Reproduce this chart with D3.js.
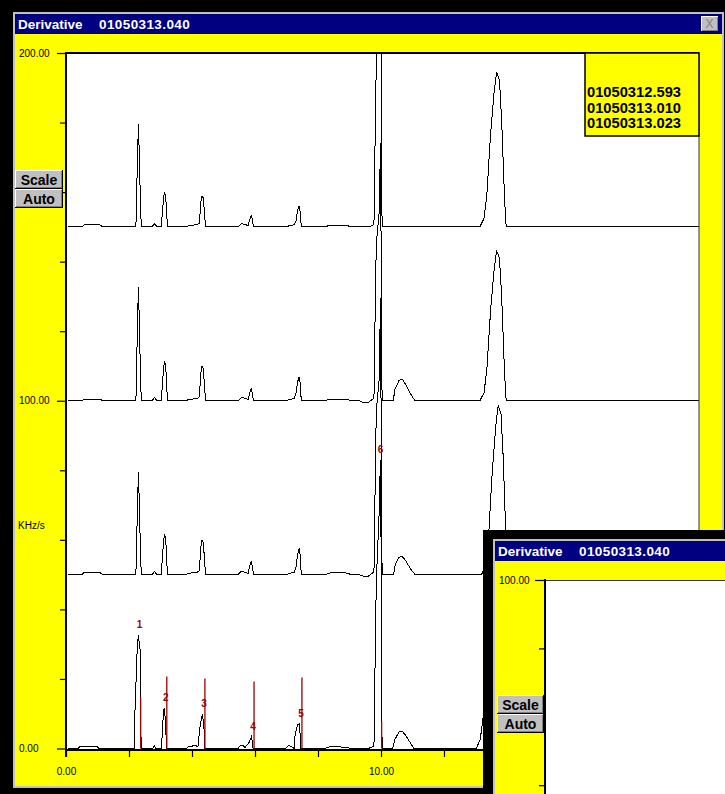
<!DOCTYPE html>
<html><head><meta charset="utf-8">
<script src="https://cdn.jsdelivr.net/npm/d3@7"></script>
<style>
html,body{margin:0;padding:0;background:#000;}
svg{display:block;font-family:"Liberation Sans",Arial,sans-serif;}
</style></head>
<body><svg id="svg" width="725" height="794"></svg>
<script>
var svg = d3.select("#svg");

// ---- data: [minutes, KHz/s above the trace's own baseline]
var title = "Derivative", fileName = "01050313.040";
var files = ["01050312.593", "01050313.010", "01050313.023"];
var offsets = [150, 100, 50, 0];

var trace1 = [
  [0.06,0],[0.51,0],[0.57,0.6],[1.08,0.6],[1.17,0],
  [2.19,0],[2.22,0.3],[2.24,8.6],[2.28,23.3],[2.30,29.6],[2.33,19.5],[2.36,8.0],[2.39,0],
  [2.73,0],[2.81,0.9],[2.89,0],
  [3.03,0],[3.06,4.6],[3.09,7.2],[3.12,9.8],[3.16,9.2],[3.18,6.6],[3.22,0],
  [3.81,0],[3.90,0.4],[4.16,0.6],[4.24,1.1],[4.27,6.6],[4.32,8.9],[4.36,8.3],[4.39,4.6],[4.43,0],
  [5.46,0],[5.56,0.9],[5.70,0.7],[5.78,0.3],[5.84,2.3],[5.88,3.2],[5.92,2.0],[5.95,0],
  [6.98,0],[7.11,0.4],[7.24,0.6],[7.30,1.7],[7.35,4.6],[7.40,6.0],[7.43,4.6],[7.47,0],
  [8.22,0],[8.38,0.5],[8.86,0.5],[9.08,0],
  [9.64,0],[9.75,0.6],[9.79,2.5],[9.80,17],[9.85,47],[9.96,68],[9.975,86],[9.99,68],[10.01,45],[10.02,8],[10.04,0],
  [13.14,0],[13.27,2.4],[13.36,9.2],[13.48,26.9],[13.59,38.7],[13.67,44.5],[13.76,42.3],[13.83,30.7],[13.91,11.1],[13.96,1.3],[13.99,0],
  [20.1,0]
];
var trace2 = [
  [0.06,0],[0.51,0],[0.57,0.5],[1.08,0.5],[1.17,0],
  [2.19,0],[2.22,0.3],[2.24,9.5],[2.28,25.8],[2.30,32.8],[2.33,21.6],[2.36,8.9],[2.39,0],
  [2.73,0],[2.81,0.9],[2.89,0],
  [3.03,0],[3.06,5.3],[3.09,8.2],[3.12,11.2],[3.16,10.5],[3.18,7.5],[3.22,0],
  [3.81,0],[3.90,0.4],[4.16,0.6],[4.24,1.2],[4.27,7.4],[4.32,10],[4.36,9.3],[4.39,5.2],[4.43,0],
  [5.46,0],[5.56,0.9],[5.70,0.7],[5.78,0.3],[5.84,2.4],[5.88,3.4],[5.92,2.1],[5.95,0],
  [6.98,0],[7.11,0.4],[7.24,0.6],[7.30,2.0],[7.35,5.3],[7.40,6.9],[7.43,5.3],[7.47,0],
  [8.22,0],[8.38,0.5],[8.86,0.5],[9.08,0],
  [9.30,0],[9.44,-0.5],[9.60,-0.5],[9.75,0.6],[9.79,2.5],[9.80,17],[9.85,45],[9.96,56],[9.975,74],[9.99,56],[10.01,42],[10.02,8],[10.04,0],
  [10.39,0],[10.44,3.2],[10.57,5.8],[10.68,6.2],[10.79,4.6],[10.92,2.2],[11.08,0],
  [13.14,0],[13.27,2.3],[13.36,8.9],[13.48,26.1],[13.59,37.6],[13.67,43.2],[13.76,41.0],[13.83,30.0],[13.91,10.9],[13.96,1.2],[13.99,0],
  [20.1,0]
];
var trace3 = [
  [0.06,0],[0.51,0],[0.57,0.6],[1.08,0.6],[1.17,0],
  [2.19,0],[2.22,0.3],[2.24,8.6],[2.28,23.3],[2.30,29.6],[2.33,19.5],[2.36,8.0],[2.39,0],
  [2.73,0],[2.81,0.9],[2.89,0],
  [3.03,0],[3.06,5.4],[3.09,8.4],[3.12,11.5],[3.16,10.8],[3.18,7.7],[3.22,0],
  [3.81,0],[3.90,0.4],[4.16,0.6],[4.24,1.2],[4.27,7.4],[4.32,10],[4.36,9.3],[4.39,5.2],[4.43,0],
  [5.46,0],[5.56,0.9],[5.70,0.7],[5.78,0.3],[5.84,2.7],[5.88,3.7],[5.92,2.3],[5.95,0],
  [6.98,0],[7.11,0.4],[7.24,0.6],[7.30,2.1],[7.35,5.8],[7.40,7.5],[7.43,5.8],[7.47,0],
  [8.22,0],[8.38,0.5],[8.86,0.5],[9.08,0],
  [9.30,0],[9.44,-0.4],[9.60,-0.4],[9.75,0.6],[9.79,2.5],[9.80,17],[9.85,47],[9.96,58],[9.975,79.6],[9.99,58],[10.01,44],[10.02,8],[10.04,0],
  [10.40,0],[10.45,2.8],[10.57,5.0],[10.67,5.3],[10.79,3.9],[10.92,1.9],[11.08,0],
  [13.19,0],[13.32,2.6],[13.41,10.0],[13.53,29.4],[13.64,42.4],[13.72,48.7],[13.81,46.3],[13.88,33.6],[13.96,12.2],[14.01,1.5],[14.04,0],
  [20.1,0]
];
var trace4 = [
  [0.06,0],[0.38,0],[0.44,0.6],[0.98,0.6],[1.05,0],
  [2.18,0],[2.19,11],[2.26,28.7],[2.295,32.5],[2.35,28.7],[2.37,5.2],[2.40,0],
  [2.76,0],[2.80,0.9],[2.84,0],
  [3.02,0],[3.06,4.3],[3.09,10.2],[3.12,11.6],[3.16,7.8],[3.19,0],
  [3.81,0],[3.87,0.4],[4.10,0.9],[4.19,0.5],[4.25,6.1],[4.33,9.8],[4.38,6.1],[4.40,0],
  [5.46,0],[5.54,0.9],[5.62,0.9],[5.68,0.3],[5.80,1.5],[5.89,3.4],[5.94,0],
  [6.98,0],[7.06,0.9],[7.14,0.6],[7.25,0],[7.27,3.7],[7.35,6.9],[7.41,7.1],[7.46,0],
  [8.22,0],[8.45,0.7],[8.86,0.3],[9.08,0],
  [9.60,0],[9.75,0.6],[9.79,2.5],[9.80,17],[9.85,48],[9.96,72],[9.975,83],[9.99,72],[10.01,50],[10.02,8],[10.04,0],
  [10.37,0],[10.44,2.6],[10.57,4.7],[10.67,5.0],[10.79,3.7],[10.92,1.8],[11.05,0],
  [13.02,0],[13.15,2.5],[13.25,9.7],[13.38,28.4],[13.50,40.9],[13.58,47],[13.66,44.7],[13.74,32.4],[13.82,11.8],[13.87,1.4],[13.90,0],
  [20.1,0]
];
var traces = [trace1, trace2, trace3, trace4];

// peak marks on the bottom trace
var markNames = ["1", "2", "3", "4", "5", "6"];
var markTimes = [2.37, 3.20, 4.41, 5.97, 7.49, 10.02];
var markTops  = [14.7, 20.7, 20.1, 19.3, 20.4, 7.8];
var markApex  = [32.5, 11.6, 9.8, 3.4, 7.1, 83];

var yTicks = d3.range(0, 201, 20), yLabels = [0, 100, 200];
var xTicks = d3.range(0, 21, 2),   xLabels = [0, 10, 20];
var y2Ticks = d3.range(0, 101, 20);

// ---- layout
var L = 66, T = 53, R = 699, B = 749;
var x = d3.scaleLinear().domain([0, 20]).range([L, L + 630]);
var y = d3.scaleLinear().domain([0, 200]).range([B - 0.5, T]);

var yellow = "#ffff00", navy = "#000080", grey = "#c0c0c0", mark = "#9c0000";

function box(g, x0, y0, w, h, fill) {
  return g.append("rect").attr("x", x0).attr("y", y0).attr("width", w).attr("height", h).attr("fill", fill);
}
function button(g, x0, y0, w, h, label) {
  var b = g.append("g").attr("transform", "translate(" + x0 + "," + y0 + ")");
  box(b, 0, 0, w, h, "#000");
  box(b, 0, 0, w - 1, h - 1, "#fff");
  box(b, 1, 1, w - 2, h - 2, "#808080");
  box(b, 1, 1, w - 3, h - 3, grey);
  b.append("text").attr("x", w / 2).attr("y", h / 2 + 5).attr("text-anchor", "middle")
    .attr("font-size", 14).attr("font-weight", "bold").attr("fill", "#000").text(label);
}
function win(g, x0, y0, x1, y1) {
  box(g, x0, y0, x1 - x0, y1 - y0, grey);
  box(g, x0 + 2, y0 + 22, x1 - x0 - 4, y1 - y0 - 24, yellow);
  box(g, x0 + 2, y0 + 2, x1 - x0 - 4, 20, navy);
  g.append("text").attr("x", x0 + 5).attr("y", y0 + 17).attr("fill", "#fff")
    .attr("font-size", 13.5).attr("font-weight", "bold").text(title);
  g.append("text").attr("x", x0 + 86).attr("y", y0 + 17).attr("fill", "#fff")
    .attr("font-size", 13.5).attr("font-weight", "bold").attr("letter-spacing", 0.4).text(fileName);
}

// ---- main window
var main = svg.append("g");
win(main, 13, 12, 724, 788);
// close box
box(main, 701, 16, 17, 15, "#fff");
box(main, 702, 17, 16, 14, "#808080");
box(main, 702, 17, 15, 13, grey);
main.append("text").attr("x", 709.5).attr("y", 28).attr("text-anchor", "middle")
  .attr("font-size", 12).attr("fill", "#808080").text("X");

box(main, L, T, R - L, B - T, "#fff");

svg.append("defs").append("clipPath").attr("id", "plot-clip")
  .append("rect").attr("x", L).attr("y", T).attr("width", R - L).attr("height", B - T + 1);

// traces
var line = d3.line().x(d => x(d[0])).y(d => y(d[1]));
main.append("g").attr("clip-path", "url(#plot-clip)")
  .selectAll("path").data(traces).enter().append("path")
  .attr("d", (t, i) => line(t.map(p => [p[0], p[1] + offsets[i]])))
  .attr("fill", "none").attr("stroke", "#000").attr("stroke-width", 1)
  .attr("shape-rendering", "crispEdges");

// peak marks
var marks = main.append("g").selectAll("g").data(markTimes).enter().append("g");
marks.append("line")
  .attr("x1", d => x(d)).attr("x2", d => x(d))
  .attr("y1", y(0)).attr("y2", (d, i) => y(markTops[i]))
  .attr("stroke", mark).attr("stroke-width", 1.3);
marks.append("text")
  .attr("x", d => x(d) - 1).attr("y", (d, i) => y(markApex[i]) - 7)
  .attr("text-anchor", "middle").attr("font-size", 10).attr("font-weight", "bold")
  .attr("fill", mark).text((d, i) => markNames[i]);

// frame
main.append("line").attr("x1", L).attr("x2", R).attr("y1", T).attr("y2", T)
  .attr("stroke", "#000").attr("stroke-width", 2);
main.append("line").attr("x1", R).attr("x2", R).attr("y1", T).attr("y2", B)
  .attr("stroke", "#333").attr("stroke-width", 1);
main.append("line").attr("x1", L).attr("x2", L).attr("y1", T - 1).attr("y2", B + 8)
  .attr("stroke", "#000").attr("stroke-width", 2);

// y axis
var yAxis = main.append("g").attr("transform", "translate(" + L + ",0)")
  .call(d3.axisLeft(y).tickValues(yTicks).tickSize(6)
    .tickFormat(d => yLabels.indexOf(d) >= 0 ? d3.format(".2f")(d) : ""));
yAxis.select(".domain").remove();
yAxis.selectAll(".tick line").attr("stroke", "#000").attr("stroke-width", 1.2)
  .filter(d => yLabels.indexOf(d) >= 0).attr("x2", -9);
yAxis.selectAll(".tick text").attr("x", -47).attr("text-anchor", "start")
  .attr("font-size", 10).attr("fill", "#000").attr("font-family", "Liberation Sans, Arial, sans-serif");
main.append("text").attr("x", 18).attr("y", 529).attr("font-size", 10).text("KHz/s");

// x axis
var xAxis = main.append("g").attr("transform", "translate(0," + (B + 1) + ")")
  .call(d3.axisBottom(x).tickValues(xTicks).tickSize(7)
    .tickFormat(d => xLabels.indexOf(d) >= 0 ? d3.format(".2f")(d) : ""));
xAxis.select(".domain").attr("d", "M" + L + ",0H" + R).attr("stroke", "#000").attr("stroke-width", 2);
xAxis.selectAll(".tick line").attr("stroke", "#000").attr("stroke-width", 1.2);
xAxis.selectAll(".tick text").attr("y", 18).attr("font-size", 10).attr("fill", "#000")
  .attr("font-family", "Liberation Sans, Arial, sans-serif");

button(main, 15, 170, 48, 19, "Scale");
button(main, 15, 189, 48, 19, "Auto");

// file list
var leg = main.append("g");
box(leg, 585, T, R - 585, 83, yellow).attr("stroke", "#000").attr("stroke-width", 1.5);
leg.selectAll("text").data(files).enter().append("text")
  .attr("x", 587).attr("y", (d, i) => 97 + i * 15.7)
  .attr("font-size", 14).attr("font-weight", "bold").attr("textLength", 94)
  .attr("lengthAdjust", "spacingAndGlyphs").text(d => d);

// ---- second window, partly off screen
var sub = svg.append("g");
box(sub, 483, 530, 300, 300, "#000");
win(sub, 493, 539, 800, 900);
var y2 = d3.scaleLinear().domain([0, 100]).range([922, 580]);
box(sub, 546, 580, 200, 300, "#fff");
sub.append("line").attr("x1", 546).attr("x2", 725).attr("y1", 580.5).attr("y2", 580.5)
  .attr("stroke", "#333").attr("stroke-width", 1);
sub.append("line").attr("x1", 545).attr("x2", 545).attr("y1", 579).attr("y2", 794)
  .attr("stroke", "#000").attr("stroke-width", 2);
var y2Axis = sub.append("g").attr("transform", "translate(545,0)")
  .call(d3.axisLeft(y2).tickValues(y2Ticks).tickSize(6)
    .tickFormat(d => d === 100 ? d3.format(".2f")(d) : ""));
y2Axis.select(".domain").remove();
y2Axis.selectAll(".tick line").attr("stroke", "#000").attr("stroke-width", 1.2)
  .filter(d => d === 100).attr("x2", -10);
y2Axis.selectAll(".tick text").attr("x", -46).attr("text-anchor", "start")
  .attr("font-size", 10).attr("fill", "#000").attr("font-family", "Liberation Sans, Arial, sans-serif");
button(sub, 497, 695, 47, 19, "Scale");
button(sub, 497, 714, 47, 19, "Auto");
</script>
</body></html>
